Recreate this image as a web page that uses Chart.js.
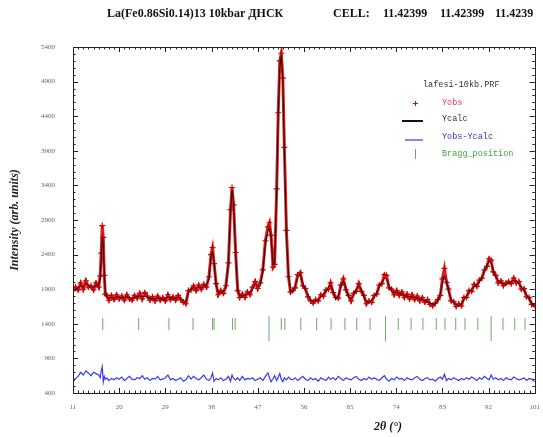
<!DOCTYPE html>
<html>
<head>
<meta charset="utf-8">
<script src="https://cdn.jsdelivr.net/npm/chart.js@4.4.1/dist/chart.umd.min.js"></script>
<style>
  html, body { margin: 0; padding: 0; background: #fff; overflow: hidden; }
  #wrap { position: relative; width: 543px; height: 437px; overflow: hidden; }
  #prfChart { display: block; }
</style>
</head>
<body>
<!-- canvas a bit wider than the page: Chart.js keeps room right of the last x label -->
<div id="wrap"><canvas id="prfChart" width="550" height="437"></canvas></div>
<script>
// 2theta grid (deg)
const twoTheta = [
  11.0, 11.5, 12.0, 12.5, 13.0, 13.5, 14.0, 14.5, 15.0, 15.5,
  16.0, 16.3, 16.5, 16.7, 16.9, 17.1, 17.3, 17.6, 18.0, 18.5,
  19.0, 19.5, 20.0, 20.5, 21.0, 21.5, 22.0, 22.5, 23.0, 23.5,
  24.0, 24.5, 25.0, 25.5, 26.0, 26.5, 27.0, 27.5, 28.0, 28.5,
  29.0, 29.5, 30.0, 30.5, 31.0, 31.5, 32.0, 32.5, 33.0, 33.5,
  34.0, 34.5, 35.0, 35.5, 36.0, 36.5, 37.0, 37.5, 37.9, 38.2,
  38.5, 38.9, 39.3, 39.8, 40.3, 40.8, 41.3, 41.7, 42.0, 42.3,
  42.7, 43.1, 43.5, 44.0, 44.5, 45.0, 45.5, 46.0, 46.5, 47.0,
  47.5, 48.0, 48.5, 49.0, 49.3, 49.6, 50.0, 50.3, 50.7, 51.0,
  51.3, 51.6, 51.9, 52.2, 52.6, 53.0, 53.4, 53.8, 54.3, 54.8,
  55.3, 55.8, 56.3, 56.8, 57.3, 57.8, 58.3, 58.8, 59.3, 59.8,
  60.3, 60.8, 61.2, 61.7, 62.2, 62.7, 63.2, 63.7, 64.2, 64.7,
  65.2, 65.7, 66.2, 66.7, 67.2, 67.7, 68.2, 68.7, 69.2, 69.7,
  70.2, 70.7, 71.2, 71.7, 72.1, 72.6, 73.1, 73.6, 74.1, 74.6,
  75.1, 75.6, 76.1, 76.6, 77.1, 77.6, 78.1, 78.6, 79.1, 79.6,
  80.1, 80.6, 81.1, 81.6, 82.1, 82.6, 83.0, 83.4, 83.8, 84.2,
  84.7, 85.2, 85.7, 86.2, 86.7, 87.2, 87.7, 88.2, 88.7, 89.2,
  89.7, 90.2, 90.7, 91.2, 91.7, 92.1, 92.5, 92.9, 93.4, 93.9,
  94.4, 94.9, 95.4, 95.9, 96.4, 96.9, 97.4, 97.9, 98.4, 98.9,
  99.4, 99.9, 100.4, 101.0
];

const yObs = [
  1880, 1930, 1890, 1990, 1900, 2020, 1930, 1950, 1890, 1990,
  1930, 2090, 2420, 2820, 2650, 2100, 1830, 1810, 1740, 1810,
  1750, 1820, 1760, 1800, 1740, 1820, 1760, 1740, 1810, 1770,
  1840, 1760, 1850, 1800, 1740, 1790, 1730, 1800, 1740, 1780,
  1730, 1820, 1750, 1790, 1740, 1810, 1750, 1710, 1690, 1880,
  1890, 1950, 1880, 1960, 1900, 1970, 1930, 2080, 2400, 2500,
  2270, 1980, 1820, 1880, 1840, 1950, 2280, 3050, 3370, 3120,
  2430, 1880, 1780, 1830, 1780, 1860, 1820, 1930, 2010, 1910,
  1990, 2180, 2600, 2800, 2860, 2680, 2220, 2260, 3350, 4450,
  5200, 5310, 4950, 3950, 2750, 2080, 1860, 1880, 1920, 2110,
  2140, 1950, 1910, 1790, 1730, 1700, 1750, 1730, 1820, 1800,
  1890, 1900, 1990, 1850, 1780, 1770, 1960, 2050, 1890, 1810,
  1730, 1840, 1870, 1980, 1870, 1810, 1690, 1730, 1710, 1810,
  1830, 1960, 1980, 2110, 2100, 1920, 1900, 1820, 1880, 1810,
  1860, 1780, 1830, 1760, 1820, 1750, 1800, 1730, 1780, 1710,
  1750, 1680, 1660, 1700, 1750, 1810, 2050, 2200, 2000, 1900,
  1730, 1720, 1650, 1690, 1660, 1780, 1780, 1880, 1870, 1970,
  1940, 2030, 2060, 2180, 2230, 2340, 2320, 2150, 2100, 1990,
  2020, 1950, 1990, 2010, 1980, 2060, 1990, 2010, 1900, 1910,
  1790, 1780, 1680, 1660
];

const yCalc = [
  1900, 1890, 1920, 1950, 1930, 1980, 1960, 1910, 1930, 1950,
  1960, 2060, 2350, 2650, 2560, 2150, 1860, 1780, 1770, 1780,
  1770, 1790, 1780, 1770, 1780, 1790, 1780, 1770, 1780, 1790,
  1800, 1790, 1800, 1780, 1770, 1760, 1760, 1770, 1760, 1750,
  1760, 1790, 1770, 1760, 1770, 1780, 1770, 1740, 1720, 1850,
  1910, 1920, 1910, 1930, 1920, 1940, 1960, 2050, 2350, 2450,
  2300, 1950, 1850, 1850, 1870, 1920, 2300, 3000, 3330, 3150,
  2400, 1900, 1810, 1800, 1810, 1830, 1850, 1900, 1980, 1940,
  1960, 2150, 2550, 2750, 2780, 2650, 2250, 2300, 3300, 4400,
  5100, 5280, 4900, 3900, 2700, 2100, 1880, 1850, 1950, 2080,
  2110, 1980, 1880, 1820, 1750, 1730, 1720, 1760, 1790, 1820,
  1860, 1930, 1960, 1880, 1750, 1800, 1930, 2020, 1920, 1780,
  1760, 1810, 1900, 1950, 1900, 1780, 1720, 1700, 1740, 1780,
  1850, 1930, 2000, 2060, 2050, 1950, 1870, 1850, 1850, 1840,
  1830, 1810, 1800, 1790, 1790, 1780, 1770, 1760, 1750, 1730,
  1720, 1700, 1690, 1680, 1720, 1840, 2000, 2090, 2020, 1870,
  1760, 1700, 1680, 1660, 1690, 1750, 1800, 1850, 1900, 1940,
  1960, 2000, 2080, 2150, 2250, 2310, 2280, 2180, 2080, 2020,
  1990, 1980, 1970, 1980, 2010, 2030, 2020, 1980, 1930, 1880,
  1820, 1760, 1700, 1640
];

// Yobs-Ycalc, shifted, as plotted
const yDiff = [
  560, 610, 640, 700, 660, 720, 690, 650, 700, 680,
  660, 620, 720, 780, 560, 640, 600, 620, 580, 610,
  590, 620, 600, 630, 580, 610, 640, 600, 590, 620,
  610, 650, 600, 620, 580, 610, 600, 640, 590, 600,
  620, 660, 590, 610, 580, 600, 620, 570, 590, 650,
  600, 640, 610, 590, 620, 660, 600, 580, 620, 690,
  570, 610, 590, 620, 580, 600, 640, 570, 660, 610,
  590, 620, 580, 640, 590, 610, 600, 620, 580, 600,
  620, 580, 640, 690, 620, 560, 610, 650, 580, 630,
  680, 600, 560, 620, 590, 630, 600, 590, 620, 580,
  610, 640, 600, 580, 620, 590, 610, 570, 620, 600,
  580, 630, 600, 620, 590, 640, 610, 580, 620, 600,
  590, 620, 640, 600, 580, 610, 590, 630, 600, 620,
  600, 580, 620, 650, 600, 570, 610, 590, 630, 600,
  610, 580, 620, 600, 590, 620, 640, 600, 580, 610,
  620, 590, 600, 570, 610, 630, 600, 670, 580, 610,
  590, 620, 600, 580, 610, 590, 620, 600, 630, 610,
  580, 620, 600, 640, 610, 590, 660, 600, 620, 590,
  610, 580, 620, 600, 590, 630, 610, 590, 600, 620,
  580, 610, 600, 560
];

// Bragg reflections (deg)
const braggPos = [16.8, 23.8, 29.7, 34.4, 38.2, 38.5, 42.1, 42.6, 51.6, 52.3,
  55.4, 58.5, 61.3, 64.0, 66.3, 68.9, 74.4, 76.9, 79.2, 81.8,
  83.5, 85.6, 87.4, 89.9, 94.8, 97.1, 99.1];
const braggLongPos = [49.2, 71.9, 92.5];

const xTicks = [11, 20, 29, 38, 47, 56, 65, 74, 83, 92, 101];
const yTicks = [400, 900, 1400, 1900, 2400, 2900, 3400, 3900, 4400, 4900, 5400];

const titleParts = [
  ['La(Fe0.86Si0.14)13 10kbar ДНСК', 107],
  ['CELL:', 333],
  ['11.42399', 383],
  ['11.42399', 440],
  ['11.4239', 495]
];
const legendTitle = 'lafesi-10kb.PRF';

const toXY = (xs, ys) => xs.map((x, i) => ({ x: x, y: ys[i] }));

// inward ticks + box + texts
const framePlugin = {
  id: 'frame',
  afterDatasetsDraw(chart) {
    const ctx = chart.ctx;
    const a = chart.chartArea;
    const xs = chart.scales.x, ys = chart.scales.y;
    ctx.save();
    ctx.strokeStyle = '#222';
    ctx.lineWidth = 1;
    ctx.beginPath();
    for (let v = 11; v <= 101; v += 1) {
      const px = Math.round(xs.getPixelForValue(v)) + 0.5;
      const len = (v - 11) % 9 === 0 ? 5 : 2.5;
      ctx.moveTo(px, a.bottom); ctx.lineTo(px, a.bottom - len);
      ctx.moveTo(px, a.top); ctx.lineTo(px, a.top + len);
    }
    for (let v = 400; v <= 5400; v += 100) {
      const py = Math.round(ys.getPixelForValue(v)) + 0.5;
      const len = (v - 400) % 500 === 0 ? 5 : 2.5;
      ctx.moveTo(a.left, py); ctx.lineTo(a.left + len, py);
      ctx.moveTo(a.right, py); ctx.lineTo(a.right - len, py);
    }
    ctx.stroke();
    ctx.strokeRect(Math.round(a.left) + 0.5, Math.round(a.top) + 0.5,
      Math.round(a.right - a.left), Math.round(a.bottom - a.top));

    // title
    ctx.fillStyle = '#111';
    ctx.font = 'bold 12px "Liberation Serif", serif';
    ctx.textBaseline = 'middle';
    ctx.textAlign = 'left';
    titleParts.forEach(([t, x]) => ctx.fillText(t, x, 14));

    // x title
    ctx.font = 'italic bold 12px "Liberation Serif", serif';
    ctx.textAlign = 'center';
    ctx.fillText('2θ (°)', 388, 427);

    // legend
    ctx.font = '8.5px "Liberation Mono", monospace';
    ctx.textAlign = 'left';
    ctx.fillStyle = '#333';
    ctx.fillText(legendTitle, 423, 85);
    ctx.fillStyle = '#e23a5a';
    ctx.fillText('Yobs', 442, 103);
    ctx.fillStyle = '#333';
    ctx.fillText('Ycalc', 442, 119);
    ctx.fillStyle = '#3535c8';
    ctx.fillText('Yobs-Ycalc', 442, 137);
    ctx.fillStyle = '#46a046';
    ctx.fillText('Bragg_position', 442, 154);

    ctx.strokeStyle = '#e00000';
    ctx.beginPath();
    ctx.moveTo(413, 103.5); ctx.lineTo(418, 103.5);
    ctx.moveTo(415.5, 101); ctx.lineTo(415.5, 106);
    ctx.stroke();
    ctx.strokeStyle = '#111';
    ctx.lineWidth = 2;
    ctx.beginPath(); ctx.moveTo(402, 121); ctx.lineTo(423, 121); ctx.stroke();
    ctx.strokeStyle = '#3a3af0';
    ctx.lineWidth = 1.2;
    ctx.beginPath(); ctx.moveTo(405, 140); ctx.lineTo(423, 140); ctx.stroke();
    ctx.strokeStyle = '#6aa86a';
    ctx.lineWidth = 1;
    ctx.beginPath(); ctx.moveTo(415.5, 149); ctx.lineTo(415.5, 159); ctx.stroke();
    ctx.restore();
  }
};

const ctx = document.getElementById('prfChart').getContext('2d');
const prfChart = new Chart(ctx, {
  type: 'scatter',
  data: {
    datasets: [
      {
        label: 'Yobs-Ycalc',
        data: toXY(twoTheta, yDiff),
        showLine: true,
        borderColor: '#3a3af0',
        borderWidth: 1.2,
        pointRadius: 0,
        order: 4
      },
      {
        label: 'Bragg_position',
        data: braggPos.map(x => ({ x: x, y: 1397 })),
        pointStyle: 'line',
        rotation: 90,
        pointRadius: 6,
        pointBorderWidth: 1,
        pointBorderColor: '#6aa86a',
        order: 3
      },
      {
        label: 'Bragg_position long',
        data: braggLongPos.map(x => ({ x: x, y: 1330 })),
        pointStyle: 'line',
        rotation: 90,
        pointRadius: 12.5,
        pointBorderWidth: 1,
        pointBorderColor: '#6aa86a',
        order: 3
      },
      {
        label: 'Yobs',
        data: toXY(twoTheta, yObs),
        showLine: true,
        borderColor: 'rgba(225,0,0,0.9)',
        borderWidth: 3,
        pointStyle: 'cross',
        pointRadius: 3,
        pointBorderWidth: 1.2,
        pointBorderColor: '#d00000',
        order: 2
      },
      {
        label: 'Ycalc',
        data: toXY(twoTheta, yCalc),
        showLine: true,
        borderColor: '#111',
        borderWidth: 1,
        pointRadius: 0,
        order: 1
      }
    ]
  },
  options: {
    responsive: false,
    animation: false,
    layout: { padding: { top: 47, right: 6, bottom: 0, left: 0 } },
    plugins: {
      legend: { display: false },
      tooltip: { enabled: false }
    },
    scales: {
      x: {
        type: 'linear',
        min: 11,
        max: 101,
        afterFit: s => { s.height = 44; },
        afterBuildTicks: s => { s.ticks = xTicks.map(v => ({ value: v })); },
        grid: { display: false, drawTicks: false },
        border: { display: false },
        ticks: {
          padding: 10,
          color: '#666',
          callback: v => String(v),
          font: { family: '"Liberation Serif", serif', size: 7 }
        }
      },
      y: {
        type: 'linear',
        min: 400,
        max: 5400,
        afterFit: s => { s.width = 73; },
        afterBuildTicks: s => { s.ticks = yTicks.map(v => ({ value: v })); },
        grid: { display: false, drawTicks: false },
        border: { display: false },
        ticks: {
          padding: 18,
          color: '#666',
          callback: v => String(v),
          font: { family: '"Liberation Serif", serif', size: 7 }
        },
        title: {
          display: true,
          text: 'Intensity (arb. units)',
          color: '#222',
          padding: { top: 8, bottom: 0 },
          font: { family: '"Liberation Serif", serif', size: 12, style: 'italic', weight: 'bold' }
        }
      }
    }
  },
  plugins: [framePlugin]
});
</script>
</body>
</html>
